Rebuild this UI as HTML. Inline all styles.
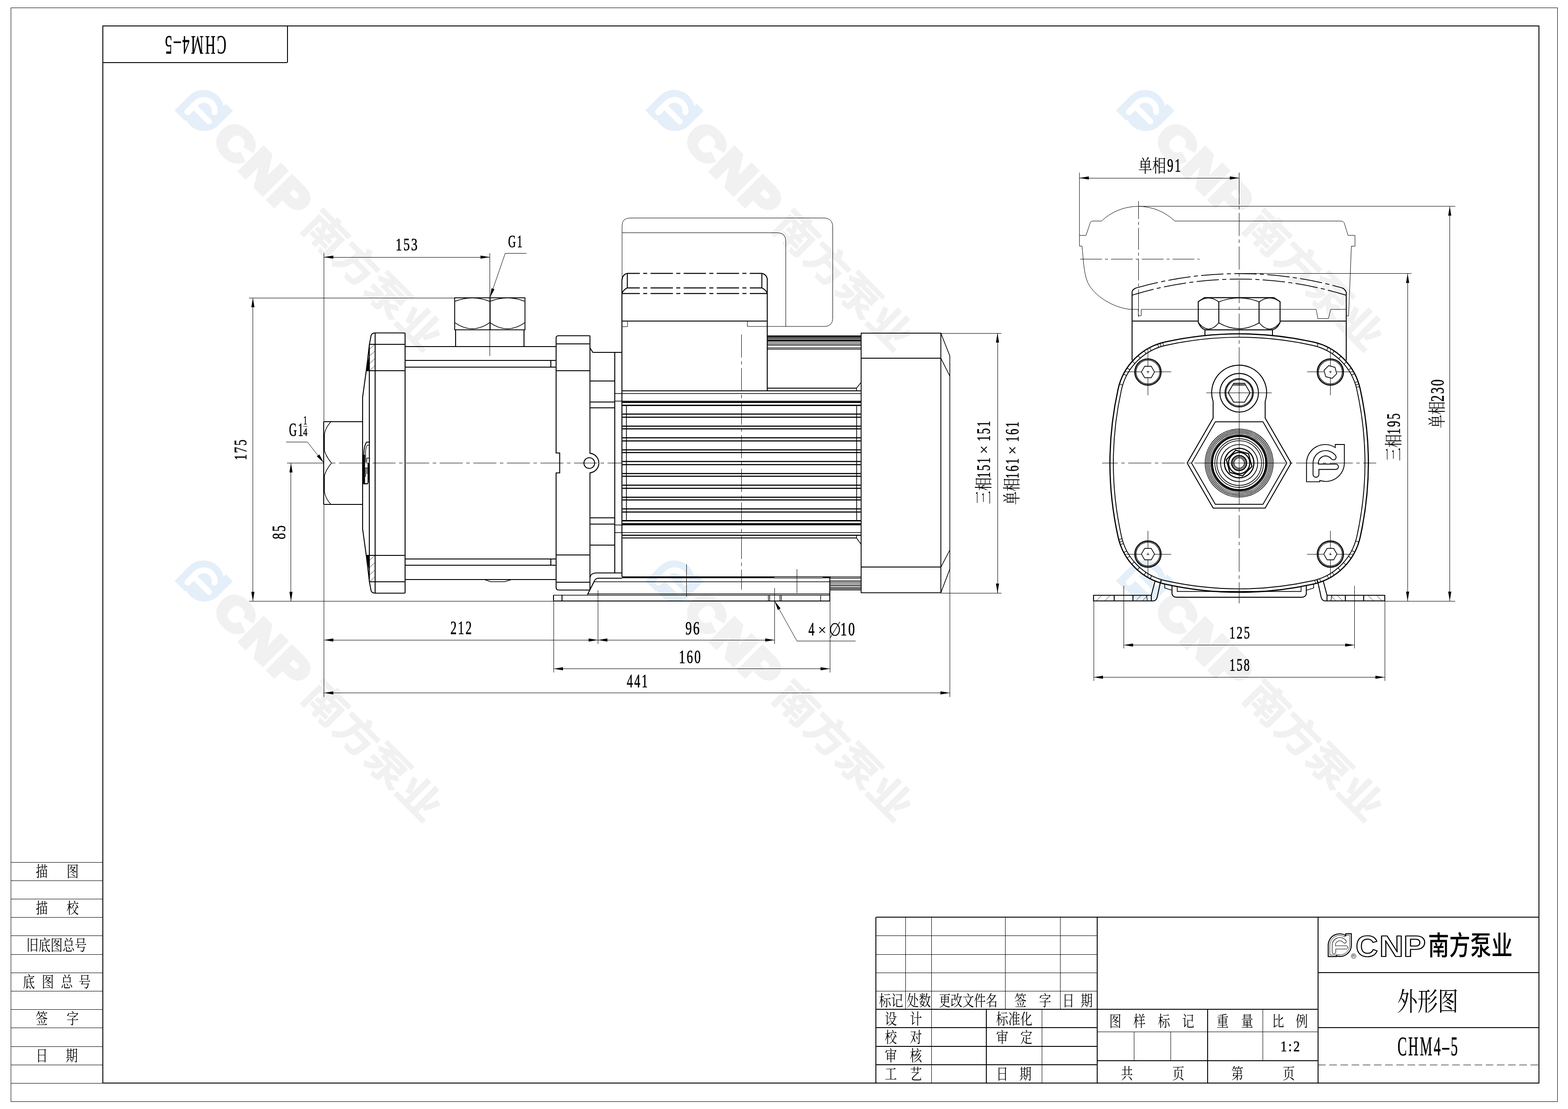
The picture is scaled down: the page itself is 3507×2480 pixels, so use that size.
<!DOCTYPE html>
<html lang="zh"><head><meta charset="utf-8"><title>CHM4-5 外形图</title>
<style>html,body{margin:0;padding:0;background:#fff}body{width:3507px;height:2480px;overflow:hidden;font-family:"Liberation Serif",serif}svg{display:block;will-change:transform}.cj{font-family:"Liberation Serif","Noto Serif CJK SC",serif;fill:#000;stroke:none}</style></head>
<body>
<svg width="3507" height="2480" viewBox="0 0 3507 2480" fill="none" stroke="#000" stroke-linecap="butt">
<defs>
<path id="embO" d="M0,0.99 L0,0.5 A0.49,0.49 0 0 1 0.756,0.089 L0.756,0.01 L0.995,0.01 L0.995,0.5 A0.49,0.49 0 0 1 0.349,0.956 L0.349,0.99 Z"/>
<path id="embI" d="M0.171,0.5 A0.33,0.33 0 0 1 0.764,0.301 A0.07,0.07 0 0 1 0.652,0.386 A0.19,0.19 0 0 0 0.31,0.5 L0.31,0.525 L0.77,0.525 A0.07,0.07 0 0 1 0.77,0.665 L0.325,0.665 L0.325,0.795 A0.077,0.077 0 0 1 0.171,0.795 Z"/>
<path id="embF" fill-rule="evenodd" d="M0,0.99 L0,0.5 A0.49,0.49 0 0 1 0.756,0.089 L0.756,0.01 L0.995,0.01 L0.995,0.5 A0.49,0.49 0 0 1 0.349,0.956 L0.349,0.99 Z M0.171,0.5 A0.33,0.33 0 0 1 0.764,0.301 A0.07,0.07 0 0 1 0.652,0.386 A0.19,0.19 0 0 0 0.31,0.5 L0.31,0.525 L0.77,0.525 A0.07,0.07 0 0 1 0.77,0.665 L0.325,0.665 L0.325,0.795 A0.077,0.077 0 0 1 0.171,0.795 Z"/>
<g id="wm"><g transform="translate(-46.7 -46.7) scale(93.4)"><use href="#embF" fill="#e4eff9" stroke="none"/></g><g font-family="Liberation Sans, sans-serif" font-weight="bold" font-size="106.1" fill="#f1f1f1" stroke="#f1f1f1" stroke-width="10" stroke-linejoin="miter"><text x="60" y="36.4" font-size="100.8" textLength="82.4" lengthAdjust="spacingAndGlyphs">C</text><text x="147.1" y="38.2" textLength="85.1" lengthAdjust="spacingAndGlyphs">N</text><text x="236.7" y="38.2" textLength="76" lengthAdjust="spacingAndGlyphs">P</text></g><text x="337" y="33.7" font-size="90" font-weight="bold" font-family="Liberation Sans, Noto Sans CJK SC, sans-serif" textLength="396" lengthAdjust="spacingAndGlyphs" fill="#f1f1f1" stroke="#f1f1f1" stroke-width="1.4">南方泵业</text></g>
</defs>
<use href="#wm" transform="translate(455.8 247.5) rotate(45)"/>
<use href="#wm" transform="translate(455.8 1299.6) rotate(45)"/>
<use href="#wm" transform="translate(1508.7 247.5) rotate(45)"/>
<use href="#wm" transform="translate(1508.7 1299.6) rotate(45)"/>
<use href="#wm" transform="translate(2561.5 247.5) rotate(45)"/>
<use href="#wm" transform="translate(2561.5 1299.6) rotate(45)"/>
<rect x="24.5" y="17.5" width="3459" height="2446" stroke-width="1"/>
<rect x="230" y="58" width="3212" height="2364" stroke-width="2"/>
<line x1="229.6" y1="140" x2="642.6" y2="140" stroke-width="2"/>
<line x1="643" y1="58" x2="643" y2="139.7" stroke-width="2"/>
<g transform="translate(505 81) rotate(180)"><text x="-1.3" y="0" font-size="58.47" font-family="Liberation Serif, serif" letter-spacing="0.11em" textLength="140.52" lengthAdjust="spacingAndGlyphs" stroke="#000" stroke-width="0.7" fill="#000">CHM4–5</text></g>
<line x1="24.3" y1="1928.5" x2="229.6" y2="1928.5" stroke-width="1"/>
<line x1="24.3" y1="1969.5" x2="229.6" y2="1969.5" stroke-width="1"/>
<line x1="24.3" y1="2010.5" x2="229.6" y2="2010.5" stroke-width="1"/>
<line x1="24.3" y1="2051.5" x2="229.6" y2="2051.5" stroke-width="1"/>
<line x1="24.3" y1="2092.5" x2="229.6" y2="2092.5" stroke-width="1"/>
<line x1="24.3" y1="2134.5" x2="229.6" y2="2134.5" stroke-width="1"/>
<line x1="24.3" y1="2175.5" x2="229.6" y2="2175.5" stroke-width="1"/>
<line x1="24.3" y1="2216.5" x2="229.6" y2="2216.5" stroke-width="1"/>
<line x1="24.3" y1="2257.5" x2="229.6" y2="2257.5" stroke-width="1"/>
<line x1="24.3" y1="2298.5" x2="229.6" y2="2298.5" stroke-width="1"/>
<line x1="24.3" y1="2340.5" x2="229.6" y2="2340.5" stroke-width="1"/>
<line x1="24.3" y1="2381.5" x2="229.6" y2="2381.5" stroke-width="1"/>
<line x1="24.3" y1="2422.5" x2="229.6" y2="2422.5" stroke-width="1"/>
<text class="cj" x="80" y="1961.42" font-size="34" textLength="27" lengthAdjust="spacingAndGlyphs">描</text>
<text class="cj" x="149" y="1961.42" font-size="34" textLength="27" lengthAdjust="spacingAndGlyphs">图</text>
<text class="cj" x="80" y="2043.42" font-size="34" textLength="27" lengthAdjust="spacingAndGlyphs">描</text>
<text class="cj" x="149" y="2043.42" font-size="34" textLength="27" lengthAdjust="spacingAndGlyphs">校</text>
<text class="cj" x="59" y="2125.92" font-size="34" textLength="135" lengthAdjust="spacingAndGlyphs">旧底图总号</text>
<text class="cj" x="51" y="2208.42" font-size="34" textLength="27" lengthAdjust="spacingAndGlyphs">底</text>
<text class="cj" x="93.5" y="2208.42" font-size="34" textLength="27" lengthAdjust="spacingAndGlyphs">图</text>
<text class="cj" x="136" y="2208.42" font-size="34" textLength="27" lengthAdjust="spacingAndGlyphs">总</text>
<text class="cj" x="176" y="2208.42" font-size="34" textLength="27" lengthAdjust="spacingAndGlyphs">号</text>
<text class="cj" x="80" y="2290.42" font-size="34" textLength="27" lengthAdjust="spacingAndGlyphs">签</text>
<text class="cj" x="149" y="2290.42" font-size="34" textLength="27" lengthAdjust="spacingAndGlyphs">字</text>
<text class="cj" x="80" y="2372.92" font-size="34" textLength="27" lengthAdjust="spacingAndGlyphs">日</text>
<text class="cj" x="147" y="2372.92" font-size="34" textLength="27" lengthAdjust="spacingAndGlyphs">期</text>
<line x1="724.5" y1="943" x2="811.3" y2="943" stroke-width="2.1"/>
<line x1="724.5" y1="1128" x2="811.3" y2="1128" stroke-width="2.1"/>
<line x1="724" y1="942.6" x2="724" y2="1128.2" stroke-width="2.1"/>
<path d="M740.4,942.7 Q728,956 725.6,971 L725.6,1007.8 Q730,1022 741.5,1035.5 Q730,1049 725.6,1063.2 L725.6,1100 Q728,1115 740.4,1128.2" stroke-width="1.5"/>
<path d="M905.5,744.5 L839,744.5 Q831.5,745 830,750 L826.3,770 L819.5,826.3 L811.3,886.3" stroke-width="2.1"/>
<line x1="826.3" y1="770" x2="905.5" y2="770" stroke-width="2.1"/>
<line x1="819.7" y1="829" x2="905.5" y2="829" stroke-width="2.1"/>
<polygon points="826.3,792 826.3,829 819.6,828.5 820.5,818" fill="#000" stroke="none"/>
<line x1="826.5" y1="781" x2="838.5" y2="770" stroke-width="0.8"/>
<line x1="826.5" y1="796" x2="838.5" y2="785" stroke-width="0.8"/>
<line x1="826.5" y1="813" x2="838.5" y2="802" stroke-width="0.8"/>
<line x1="826.5" y1="829" x2="838.5" y2="818" stroke-width="0.8"/>
<path d="M905.5,1326.5 L839,1326.5 Q831.5,1326 830,1321 L826.3,1301 L819.5,1244.7 L811.3,1184.7" stroke-width="2.1"/>
<line x1="826.3" y1="1301" x2="905.5" y2="1301" stroke-width="2.1"/>
<line x1="819.7" y1="1242" x2="905.5" y2="1242" stroke-width="2.1"/>
<polygon points="826.3,1279 826.3,1242 819.6,1242.5 820.5,1253" fill="#000" stroke="none"/>
<line x1="826.5" y1="1301" x2="838.5" y2="1290" stroke-width="0.8"/>
<line x1="826.5" y1="1286" x2="838.5" y2="1275" stroke-width="0.8"/>
<line x1="826.5" y1="1269" x2="838.5" y2="1258" stroke-width="0.8"/>
<line x1="826.5" y1="1253" x2="838.5" y2="1242" stroke-width="0.8"/>
<line x1="811" y1="886" x2="811" y2="1185" stroke-width="2.1"/>
<line x1="826" y1="770" x2="826" y2="1301" stroke-width="2.1"/>
<line x1="839" y1="744.5" x2="839" y2="1326.5" stroke-width="2.1"/>
<line x1="906" y1="744.5" x2="906" y2="1326.5" stroke-width="2.1"/>
<polygon points="811.8,1017 816.4,1017 816.4,1083 811.8,1083" fill="#000" stroke="none"/>
<polygon points="822.2,1035.6 826.6,1035.6 826.6,1072 824.8,1072 824.3,1080 822.2,1083 816,1083 816,1080.6 822.2,1080.6" fill="#000" stroke="none"/>
<path d="M813.6,1018 Q814.2,996 819.8,988.8 L827.6,988.8" stroke-width="2"/>
<path d="M817.6,1034 L817.6,1010 Q818.5,998 822,995.5 L826,995.5" stroke-width="1.5"/>
<path d="M820.4,1034 L820.4,1024.5 L827.6,1024.5" stroke-width="1.5"/>
<line x1="817.5" y1="1047" x2="817.5" y2="1066" stroke-width="1.4"/>
<line x1="820.5" y1="1047" x2="820.5" y2="1060" stroke-width="1.4"/>
<line x1="816.4" y1="1046.5" x2="822.2" y2="1046.5" stroke-width="1.4"/>
<line x1="905.5" y1="775" x2="1243.8" y2="775" stroke-width="2.1"/>
<line x1="905.5" y1="806" x2="1243.8" y2="806" stroke-width="2.1"/>
<line x1="905.5" y1="821" x2="1243.8" y2="821" stroke-width="2.1"/>
<line x1="905.5" y1="1250" x2="1243.8" y2="1250" stroke-width="2.1"/>
<line x1="905.5" y1="1264" x2="1243.8" y2="1264" stroke-width="2.1"/>
<line x1="905.5" y1="1296" x2="1243.8" y2="1296" stroke-width="2.1"/>
<line x1="1232" y1="805.6" x2="1232" y2="820.6" stroke-width="2.1"/>
<line x1="1232" y1="1249.8" x2="1232" y2="1263.8" stroke-width="2.1"/>
<path d="M1082.5,1295.8 L1097.5,1300.8 L1128.8,1300.8 L1145,1295.8" stroke-width="1.6"/>
<rect x="1017" y="666" width="157.2" height="71.5" stroke-width="1.9"/>
<line x1="1096" y1="666" x2="1096" y2="737.5" stroke-width="2.4"/>
<path d="M1017,674 Q1056.3,658.5 1095.6,674" stroke-width="1.6"/>
<path d="M1017,721.4 Q1056.3,749 1095.6,721.4" stroke-width="1.6"/>
<path d="M1095.6,674 Q1134.9,658.5 1174.2,674" stroke-width="1.6"/>
<path d="M1095.6,721.4 Q1134.9,749 1174.2,721.4" stroke-width="1.6"/>
<line x1="1019" y1="737.5" x2="1019" y2="775" stroke-width="2.1"/>
<line x1="1172" y1="737.5" x2="1172" y2="775" stroke-width="2.1"/>
<path d="M1319.5,750.8 L1249,750.8 Q1243.8,751 1243.8,756 L1243.8,1013 L1251.8,1013 L1251.8,1057.5 L1243.8,1057.5 L1243.8,1314 Q1244,1319.5 1250,1319.5 L1319.5,1319.5" stroke-width="2.1"/>
<path d="M1319.5,750.8 L1319.5,1013.6 A22,22 0 0 1 1319.5,1057.4 L1319.5,1319.5" stroke-width="2.1"/>
<line x1="1243.8" y1="769" x2="1319.5" y2="769" stroke-width="2.1"/>
<line x1="1243.8" y1="829" x2="1319.5" y2="829" stroke-width="2.1"/>
<line x1="1243.8" y1="1241" x2="1319.5" y2="1241" stroke-width="2.1"/>
<line x1="1243.8" y1="1302" x2="1319.5" y2="1302" stroke-width="2.1"/>
<circle cx="1318" cy="1035.5" r="12" stroke-width="2.1"/>
<path d="M1319.5,778 L1326,788 L1391.3,788" stroke-width="2.1"/>
<line x1="1375" y1="788" x2="1375" y2="1281.3" stroke-width="2.1"/>
<line x1="1319.5" y1="852" x2="1374.7" y2="852" stroke-width="2.1"/>
<line x1="1319.5" y1="899" x2="1374.7" y2="899" stroke-width="2.1"/>
<line x1="1319.5" y1="912" x2="1374.7" y2="912" stroke-width="2.1"/>
<line x1="1319.5" y1="1158" x2="1374.7" y2="1158" stroke-width="2.1"/>
<line x1="1319.5" y1="1172" x2="1374.7" y2="1172" stroke-width="2.1"/>
<line x1="1319.5" y1="1219" x2="1374.7" y2="1219" stroke-width="2.1"/>
<path d="M1319.5,1291 Q1321,1282 1333,1281.3 L1391.3,1281.3" stroke-width="2.1"/>
<line x1="1391" y1="625" x2="1391" y2="1290" stroke-width="2.1"/>
<line x1="1391.3" y1="718" x2="1716.3" y2="718" stroke-width="2.2"/>
<line x1="1716" y1="625" x2="1716" y2="873.5" stroke-width="2.1"/>
<line x1="1391.3" y1="874" x2="1926" y2="874" stroke-width="2.2"/>
<line x1="1374.7" y1="880" x2="1926" y2="880" stroke-width="1.7"/>
<line x1="1374.7" y1="897" x2="1926" y2="897" stroke-width="1.7"/>
<line x1="1374.7" y1="1174" x2="1926" y2="1174" stroke-width="1.7"/>
<line x1="1374.7" y1="1191" x2="1926" y2="1191" stroke-width="1.7"/>
<line x1="1391.3" y1="1197" x2="1926" y2="1197" stroke-width="2.4"/>
<line x1="1391.3" y1="1203" x2="1915.6" y2="1203" stroke-width="1.8"/>
<line x1="1716.3" y1="868" x2="1915.6" y2="868" stroke-width="1.8"/>
<path d="M1915.6,873 L1915.6,868 L1926,855" stroke-width="1.6"/>
<path d="M1915.6,1198 L1915.6,1203 L1926,1217.5" stroke-width="1.6"/>
<line x1="1390.5" y1="899.5" x2="1926" y2="899.5" stroke-width="2.8"/>
<line x1="1390.5" y1="906.5" x2="1926" y2="906.5" stroke-width="2.8"/>
<line x1="1390.5" y1="926" x2="1926" y2="926" stroke-width="2.4"/>
<line x1="1390.5" y1="933" x2="1926" y2="933" stroke-width="2.4"/>
<line x1="1391" y1="926.1" x2="1391" y2="932.9" stroke-width="1.6"/>
<line x1="1390.5" y1="953" x2="1926" y2="953" stroke-width="2.4"/>
<line x1="1390.5" y1="959" x2="1926" y2="959" stroke-width="2.4"/>
<line x1="1391" y1="952.6" x2="1391" y2="959.4" stroke-width="1.6"/>
<line x1="1390.5" y1="979" x2="1926" y2="979" stroke-width="2.4"/>
<line x1="1390.5" y1="986" x2="1926" y2="986" stroke-width="2.4"/>
<line x1="1391" y1="979.1" x2="1391" y2="985.9" stroke-width="1.6"/>
<line x1="1390.5" y1="1006" x2="1926" y2="1006" stroke-width="2.4"/>
<line x1="1390.5" y1="1012" x2="1926" y2="1012" stroke-width="2.4"/>
<line x1="1391" y1="1005.6" x2="1391" y2="1012.4" stroke-width="1.6"/>
<line x1="1390.5" y1="1032" x2="1926" y2="1032" stroke-width="2.4"/>
<line x1="1390.5" y1="1039" x2="1926" y2="1039" stroke-width="2.4"/>
<line x1="1391" y1="1032.1" x2="1391" y2="1038.9" stroke-width="1.6"/>
<line x1="1390.5" y1="1059" x2="1926" y2="1059" stroke-width="2.4"/>
<line x1="1390.5" y1="1065" x2="1926" y2="1065" stroke-width="2.4"/>
<line x1="1391" y1="1058.6" x2="1391" y2="1065.4" stroke-width="1.6"/>
<line x1="1390.5" y1="1085" x2="1926" y2="1085" stroke-width="2.4"/>
<line x1="1390.5" y1="1092" x2="1926" y2="1092" stroke-width="2.4"/>
<line x1="1391" y1="1085.1" x2="1391" y2="1091.9" stroke-width="1.6"/>
<line x1="1390.5" y1="1112" x2="1926" y2="1112" stroke-width="2.4"/>
<line x1="1390.5" y1="1118" x2="1926" y2="1118" stroke-width="2.4"/>
<line x1="1391" y1="1111.6" x2="1391" y2="1118.4" stroke-width="1.6"/>
<line x1="1390.5" y1="1138" x2="1926" y2="1138" stroke-width="2.4"/>
<line x1="1390.5" y1="1145" x2="1926" y2="1145" stroke-width="2.4"/>
<line x1="1391" y1="1138.1" x2="1391" y2="1144.9" stroke-width="1.6"/>
<line x1="1390.5" y1="1164.5" x2="1926" y2="1164.5" stroke-width="2.8"/>
<line x1="1390.5" y1="1171.5" x2="1926" y2="1171.5" stroke-width="2.8"/>
<line x1="1401" y1="907" x2="1401" y2="1164" stroke-width="1.6"/>
<line x1="1916" y1="907" x2="1916" y2="1164" stroke-width="1.6"/>
<line x1="1716.3" y1="752" x2="1926" y2="752" stroke-width="3.6"/>
<line x1="1856.3" y1="1319" x2="1926" y2="1319" stroke-width="2"/>
<line x1="1716.3" y1="756" x2="1926" y2="756" stroke-width="2.4"/>
<line x1="1856.3" y1="1315" x2="1926" y2="1315" stroke-width="2.4"/>
<line x1="1716.3" y1="761" x2="1926" y2="761" stroke-width="4"/>
<line x1="1856.3" y1="1310" x2="1926" y2="1310" stroke-width="2"/>
<line x1="1716.3" y1="765" x2="1926" y2="765" stroke-width="1.5"/>
<line x1="1856.3" y1="1306" x2="1926" y2="1306" stroke-width="1.5"/>
<line x1="1716.3" y1="769" x2="1926" y2="769" stroke-width="1.5"/>
<line x1="1856.3" y1="1302" x2="1926" y2="1302" stroke-width="1.5"/>
<line x1="1716.3" y1="772" x2="1926" y2="772" stroke-width="1.5"/>
<line x1="1856.3" y1="1299" x2="1926" y2="1299" stroke-width="1.5"/>
<line x1="1716.3" y1="778" x2="1926" y2="778" stroke-width="1.5"/>
<line x1="1856.3" y1="1293" x2="1926" y2="1293" stroke-width="1.5"/>
<line x1="1716.3" y1="781" x2="1926" y2="781" stroke-width="1.5"/>
<line x1="1856.3" y1="1290" x2="1926" y2="1290" stroke-width="1.5"/>
<path d="M1403,611.3 L1703.8,611.3" stroke-width="2.2" stroke-dasharray="50 7.5 9 7.5" stroke-dashoffset="22"/>
<path d="M1403,643.8 L1703.8,643.8" stroke-width="2.2" stroke-dasharray="50 7.5 9 7.5" stroke-dashoffset="22"/>
<path d="M1391.3,656.3 L1716.3,656.3" stroke-width="2.2" stroke-dasharray="50 7.5 9 7.5" stroke-dashoffset="10.3"/>
<path d="M1403,611.3 Q1392,614 1391.3,626" stroke-width="2.1"/>
<path d="M1703.8,611.3 Q1715.5,614 1716.3,626" stroke-width="2.1"/>
<line x1="1403" y1="611.3" x2="1403" y2="643.8" stroke-width="2.1"/>
<line x1="1704" y1="611.3" x2="1704" y2="643.8" stroke-width="2.1"/>
<path d="M1403,643.8 Q1394,648 1391.3,656.3" stroke-width="2.1"/>
<path d="M1703.8,643.8 Q1713,648 1716.3,656.3" stroke-width="2.1"/>
<path d="M1391.3,730.5 L1403.6,730.5 L1403.6,718" stroke-width="1"/>
<path d="M1391.3,626 L1391.3,505 Q1391.3,487.5 1409,487.5 L1842,487.5 Q1862.5,487.5 1862.5,508 L1862.5,711 Q1862.5,730 1844,730 L1671.5,730 L1671.5,718" stroke-width="1"/>
<path d="M1391.3,520.5 L1739,520.5 Q1757.5,520.5 1757.5,540 L1757.5,730" stroke-width="1"/>
<line x1="1658.5" y1="748" x2="1658.5" y2="1318.8" stroke-width="1" stroke-dasharray="51.7 7.8 7.8 7.8"/>
<line x1="642" y1="1035.5" x2="724.5" y2="1035.5" stroke-width="1"/>
<line x1="741.5" y1="1035.5" x2="1390" y2="1035.5" stroke-width="1" stroke-dasharray="51.7 7.8 7.8 7.8" stroke-dashoffset="58.5"/>
<rect x="1926" y="745" width="178.3" height="580.5" stroke-width="1.9"/>
<line x1="1926" y1="801" x2="2104.3" y2="801" stroke-width="2.1"/>
<line x1="1926" y1="1268" x2="2104.3" y2="1268" stroke-width="2.1"/>
<path d="M2104.3,745 L2124.4,796 L2124.4,1272.5 L2104.3,1325.5" stroke-width="1.6"/>
<line x1="2104.3" y1="801.2" x2="2124.4" y2="841" stroke-width="1.6"/>
<line x1="2104.3" y1="1268.3" x2="2124.4" y2="1230" stroke-width="1.6"/>
<line x1="1391.3" y1="1291" x2="1732" y2="1291" stroke-width="4"/>
<line x1="1732" y1="1289.5" x2="1840" y2="1289.5" stroke-width="1.4"/>
<line x1="1840" y1="1291" x2="1857.5" y2="1291" stroke-width="4"/>
<line x1="1732" y1="1292.5" x2="1840" y2="1292.5" stroke-width="1.4"/>
<path d="M1313.8,1330 L1329,1300 Q1332,1293 1338,1293 L1391.3,1293" stroke-width="2.1"/>
<line x1="1329" y1="1301" x2="1856.3" y2="1301" stroke-width="1.6"/>
<line x1="1238.2" y1="1331" x2="1857" y2="1331" stroke-width="1.7"/>
<line x1="1314" y1="1328" x2="1857" y2="1328" stroke-width="1.6"/>
<line x1="1238.2" y1="1344" x2="1857" y2="1344" stroke-width="2.2"/>
<line x1="1238" y1="1330.6" x2="1238" y2="1343.6" stroke-width="2.1"/>
<line x1="1257" y1="1330.6" x2="1257" y2="1343.6" stroke-width="2.1"/>
<line x1="1856" y1="1290" x2="1856" y2="1344" stroke-width="2.1"/>
<line x1="1718.5" y1="1331.4" x2="1718.5" y2="1343.6" stroke-width="1.4"/>
<line x1="1721.5" y1="1331.4" x2="1721.5" y2="1343.6" stroke-width="1.4"/>
<line x1="1744.5" y1="1331.4" x2="1744.5" y2="1343.6" stroke-width="1.4"/>
<line x1="1747.5" y1="1331.4" x2="1747.5" y2="1343.6" stroke-width="1.4"/>
<line x1="1835.5" y1="1331.4" x2="1835.5" y2="1343.6" stroke-width="1.4"/>
<line x1="1535.5" y1="1262" x2="1535.5" y2="1334.5" stroke-width="1"/>
<line x1="1782.5" y1="1273" x2="1782.5" y2="1326.3" stroke-width="1"/>
<line x1="1732.5" y1="1315" x2="1732.5" y2="1440" stroke-width="1"/>
<line x1="1337.5" y1="1320" x2="1337.5" y2="1440" stroke-width="1"/>
<line x1="724.5" y1="566" x2="724.5" y2="942.6" stroke-width="1"/>
<line x1="724.5" y1="1128.2" x2="724.5" y2="1558.8" stroke-width="1"/>
<line x1="1095.5" y1="566" x2="1095.5" y2="666" stroke-width="1"/>
<line x1="1095.5" y1="737.5" x2="1095.5" y2="796" stroke-width="1"/>
<line x1="724.5" y1="575.5" x2="1095.6" y2="575.5" stroke-width="1"/>
<polygon points="724.5,575 745.5,571.5 745.5,578.5" fill="#000" stroke="none"/>
<polygon points="1095.6,575 1074.6,578.5 1074.6,571.5" fill="#000" stroke="none"/>
<text x="884.8" y="560" font-size="39.69" font-family="Liberation Serif, serif" letter-spacing="0.11em" textLength="52.04" lengthAdjust="spacingAndGlyphs" stroke="#000" stroke-width="0.7" fill="#000">153</text>
<text x="1136.52" y="552.6" font-size="40.46" font-family="Liberation Serif, serif" letter-spacing="0.11em" textLength="34.56" lengthAdjust="spacingAndGlyphs" stroke="#000" stroke-width="0.7" fill="#000">G1</text>
<path d="M1177.5,566.5 L1130,566.5 L1095.8,665.5" stroke-width="1"/>
<polygon points="1095.8,665.5 1099.33,644.5 1105.95,646.78" fill="#000" stroke="none"/>
<line x1="557" y1="666.5" x2="1017" y2="666.5" stroke-width="1"/>
<line x1="557" y1="1344.5" x2="1238" y2="1344.5" stroke-width="1"/>
<line x1="565.5" y1="666" x2="565.5" y2="1344.4" stroke-width="1"/>
<polygon points="565.6,666 569.1,687 562.1,687" fill="#000" stroke="none"/>
<polygon points="565.6,1344.4 562.1,1323.4 569.1,1323.4" fill="#000" stroke="none"/>
<g transform="translate(551 1027) rotate(-90)"><text x="-2.37" y="0" font-size="39.69" font-family="Liberation Serif, serif" letter-spacing="0.11em" textLength="49.4" lengthAdjust="spacingAndGlyphs" stroke="#000" stroke-width="0.7" fill="#000">175</text></g>
<line x1="650.5" y1="1035.5" x2="650.5" y2="1344.4" stroke-width="1"/>
<polygon points="650.8,1035.5 654.3,1056.5 647.3,1056.5" fill="#000" stroke="none"/>
<polygon points="650.8,1344.4 647.3,1323.4 654.3,1323.4" fill="#000" stroke="none"/>
<g transform="translate(638 1205) rotate(-90)"><text x="-1.07" y="0" font-size="42.75" font-family="Liberation Serif, serif" letter-spacing="0.11em" textLength="34.25" lengthAdjust="spacingAndGlyphs" stroke="#000" stroke-width="0.7" fill="#000">85</text></g>
<text x="646.52" y="975" font-size="41.22" font-family="Liberation Serif, serif" letter-spacing="0.11em" textLength="34.56" lengthAdjust="spacingAndGlyphs" stroke="#000" stroke-width="0.7" fill="#000">G1</text>
<text x="678.5" y="948.8" font-size="27.48" font-family="Liberation Serif, serif" letter-spacing="0.11em" textLength="10.4" lengthAdjust="spacingAndGlyphs" stroke="#000" stroke-width="0.7" fill="#000">1</text>
<line x1="678.5" y1="953.5" x2="687.5" y2="953.5" stroke-width="1"/>
<text x="678.24" y="975" font-size="25.95" font-family="Liberation Serif, serif" letter-spacing="0.11em" textLength="11.15" lengthAdjust="spacingAndGlyphs" stroke="#000" stroke-width="0.7" fill="#000">4</text>
<path d="M640,988.5 L687.5,988.5 L724.3,1035" stroke-width="1"/>
<polygon points="724.3,1035 708.61,1020.61 714.13,1016.3" fill="#000" stroke="none"/>
<line x1="724.5" y1="1431.5" x2="1732.5" y2="1431.5" stroke-width="1"/>
<polygon points="724.5,1431.3 745.5,1427.8 745.5,1434.8" fill="#000" stroke="none"/>
<polygon points="1337.5,1431.3 1316.5,1434.8 1316.5,1427.8" fill="#000" stroke="none"/>
<polygon points="1337.5,1431.3 1358.5,1427.8 1358.5,1434.8" fill="#000" stroke="none"/>
<polygon points="1732.5,1431.3 1711.5,1434.8 1711.5,1427.8" fill="#000" stroke="none"/>
<text x="1007.59" y="1418.2" font-size="42.75" font-family="Liberation Serif, serif" letter-spacing="0.11em" textLength="50.35" lengthAdjust="spacingAndGlyphs" stroke="#000" stroke-width="0.7" fill="#000">212</text>
<text x="1532.88" y="1418.8" font-size="41.98" font-family="Liberation Serif, serif" letter-spacing="0.11em" textLength="34.92" lengthAdjust="spacingAndGlyphs" stroke="#000" stroke-width="0.7" fill="#000">96</text>
<line x1="1238.5" y1="1343.6" x2="1238.5" y2="1503.8" stroke-width="1"/>
<line x1="1856.5" y1="1344" x2="1856.5" y2="1503.8" stroke-width="1"/>
<line x1="1238.2" y1="1495.5" x2="1856.3" y2="1495.5" stroke-width="1"/>
<polygon points="1238.2,1495.5 1259.2,1492 1259.2,1499" fill="#000" stroke="none"/>
<polygon points="1856.3,1495.5 1835.3,1499 1835.3,1492" fill="#000" stroke="none"/>
<text x="1518.52" y="1482.5" font-size="41.98" font-family="Liberation Serif, serif" letter-spacing="0.11em" textLength="51.66" lengthAdjust="spacingAndGlyphs" stroke="#000" stroke-width="0.7" fill="#000">160</text>
<line x1="2124.5" y1="1272.5" x2="2124.5" y2="1558.8" stroke-width="1"/>
<line x1="724.5" y1="1549.5" x2="2124.4" y2="1549.5" stroke-width="1"/>
<polygon points="724.5,1549.5 745.5,1546 745.5,1553" fill="#000" stroke="none"/>
<polygon points="2124.4,1549.5 2103.4,1553 2103.4,1546" fill="#000" stroke="none"/>
<text x="1401.97" y="1537" font-size="41.22" font-family="Liberation Serif, serif" letter-spacing="0.11em" textLength="49.42" lengthAdjust="spacingAndGlyphs" stroke="#000" stroke-width="0.7" fill="#000">441</text>
<path d="M1732.5,1344 L1782.5,1433.5 L1913.8,1433.5" stroke-width="1"/>
<polygon points="1732.5,1344 1745.83,1360.6 1739.72,1364.03" fill="#000" stroke="none"/>
<text x="1808.27" y="1421.3" font-size="41.22" font-family="Liberation Serif, serif" letter-spacing="0.11em" textLength="16.4" lengthAdjust="spacingAndGlyphs" stroke="#000" stroke-width="0.7" fill="#000">4</text>
<line x1="1832.5" y1="1402.5" x2="1845.1" y2="1415.1" stroke-width="1.9"/>
<line x1="1832.5" y1="1415.1" x2="1845.1" y2="1402.5" stroke-width="1.9"/>
<text x="1879.43" y="1421.3" font-size="41.22" font-family="Liberation Serif, serif" letter-spacing="0.11em" textLength="35.71" lengthAdjust="spacingAndGlyphs" stroke="#000" stroke-width="0.7" fill="#000">10</text>
<ellipse cx="1867.5" cy="1407.7" rx="10" ry="13.3" stroke-width="2.2"/>
<line x1="1857" y1="1426" x2="1878.5" y2="1390.5" stroke-width="1.4"/>
<line x1="2104.3" y1="745.5" x2="2240" y2="745.5" stroke-width="1"/>
<line x1="2104.3" y1="1326.5" x2="2240" y2="1326.5" stroke-width="1"/>
<line x1="2231.5" y1="745" x2="2231.5" y2="1326" stroke-width="1"/>
<polygon points="2231,745 2234.5,766 2227.5,766" fill="#000" stroke="none"/>
<polygon points="2231,1326 2227.5,1305 2234.5,1305" fill="#000" stroke="none"/>
<path d="M2605.97,764.78 A767,767 0 0 1 2937.03,764.78 A138.3,138.3 0 0 1 3042.22,869.97 A767,767 0 0 1 3042.22,1201.03 A138.3,138.3 0 0 1 2937.03,1306.22 A767,767 0 0 1 2605.97,1306.22 A138.3,138.3 0 0 1 2500.78,1201.03 A767,767 0 0 1 2500.78,869.97 A138.3,138.3 0 0 1 2605.97,764.78 Z" stroke-width="2.6"/>
<path d="M2607.61,772.2 A759.4,759.4 0 0 1 2935.39,772.2 A130.70000000000002,130.70000000000002 0 0 1 3034.8,871.61 A759.4,759.4 0 0 1 3034.8,1199.39 A130.70000000000002,130.70000000000002 0 0 1 2935.39,1298.8 A759.4,759.4 0 0 1 2607.61,1298.8 A130.70000000000002,130.70000000000002 0 0 1 2508.2,1199.39 A759.4,759.4 0 0 1 2508.2,871.61 A130.70000000000002,130.70000000000002 0 0 1 2607.61,772.2 Z" stroke-width="1.9"/>
<line x1="2503.7" y1="858.92" x2="2510.96" y2="861.17" stroke-width="1.3"/>
<line x1="2512.92" y1="836.38" x2="2519.67" y2="839.87" stroke-width="1.3"/>
<line x1="2520.89" y1="822.88" x2="2527.21" y2="827.11" stroke-width="1.3"/>
<line x1="2532.56" y1="807.81" x2="2538.23" y2="812.87" stroke-width="1.3"/>
<line x1="2545.27" y1="795.28" x2="2550.24" y2="801.03" stroke-width="1.3"/>
<line x1="2559.08" y1="784.76" x2="2563.3" y2="791.08" stroke-width="1.3"/>
<line x1="2571.31" y1="777.48" x2="2574.86" y2="784.2" stroke-width="1.3"/>
<line x1="2588.97" y1="769.69" x2="2591.54" y2="776.84" stroke-width="1.3"/>
<line x1="2594.69" y1="767.77" x2="2596.95" y2="775.03" stroke-width="1.3"/>
<line x1="2600.49" y1="766.1" x2="2602.43" y2="773.45" stroke-width="1.3"/>
<line x1="2948.08" y1="767.7" x2="2945.83" y2="774.96" stroke-width="1.3"/>
<line x1="2970.62" y1="776.92" x2="2967.13" y2="783.67" stroke-width="1.3"/>
<line x1="2984.12" y1="784.89" x2="2979.89" y2="791.21" stroke-width="1.3"/>
<line x1="2999.19" y1="796.56" x2="2994.13" y2="802.23" stroke-width="1.3"/>
<line x1="3011.72" y1="809.27" x2="3005.97" y2="814.24" stroke-width="1.3"/>
<line x1="3022.24" y1="823.08" x2="3015.92" y2="827.3" stroke-width="1.3"/>
<line x1="3029.52" y1="835.31" x2="3022.8" y2="838.86" stroke-width="1.3"/>
<line x1="3037.31" y1="852.97" x2="3030.16" y2="855.54" stroke-width="1.3"/>
<line x1="3039.23" y1="858.69" x2="3031.97" y2="860.95" stroke-width="1.3"/>
<line x1="3040.9" y1="864.49" x2="3033.55" y2="866.43" stroke-width="1.3"/>
<line x1="3039.3" y1="1212.08" x2="3032.04" y2="1209.83" stroke-width="1.3"/>
<line x1="3030.08" y1="1234.62" x2="3023.33" y2="1231.13" stroke-width="1.3"/>
<line x1="3022.11" y1="1248.12" x2="3015.79" y2="1243.89" stroke-width="1.3"/>
<line x1="3010.44" y1="1263.19" x2="3004.77" y2="1258.13" stroke-width="1.3"/>
<line x1="2997.73" y1="1275.72" x2="2992.76" y2="1269.97" stroke-width="1.3"/>
<line x1="2983.92" y1="1286.24" x2="2979.7" y2="1279.92" stroke-width="1.3"/>
<line x1="2971.69" y1="1293.52" x2="2968.14" y2="1286.8" stroke-width="1.3"/>
<line x1="2954.03" y1="1301.31" x2="2951.46" y2="1294.16" stroke-width="1.3"/>
<line x1="2948.31" y1="1303.23" x2="2946.05" y2="1295.97" stroke-width="1.3"/>
<line x1="2942.51" y1="1304.9" x2="2940.57" y2="1297.55" stroke-width="1.3"/>
<line x1="2594.92" y1="1303.3" x2="2597.17" y2="1296.04" stroke-width="1.3"/>
<line x1="2572.38" y1="1294.08" x2="2575.87" y2="1287.33" stroke-width="1.3"/>
<line x1="2558.88" y1="1286.11" x2="2563.11" y2="1279.79" stroke-width="1.3"/>
<line x1="2543.81" y1="1274.44" x2="2548.87" y2="1268.77" stroke-width="1.3"/>
<line x1="2531.28" y1="1261.73" x2="2537.03" y2="1256.76" stroke-width="1.3"/>
<line x1="2520.76" y1="1247.92" x2="2527.08" y2="1243.7" stroke-width="1.3"/>
<line x1="2513.48" y1="1235.69" x2="2520.2" y2="1232.14" stroke-width="1.3"/>
<line x1="2505.69" y1="1218.03" x2="2512.84" y2="1215.46" stroke-width="1.3"/>
<line x1="2503.77" y1="1212.31" x2="2511.03" y2="1210.05" stroke-width="1.3"/>
<line x1="2502.1" y1="1206.51" x2="2509.45" y2="1204.57" stroke-width="1.3"/>
<circle cx="2567.5" cy="831.9" r="29.2" stroke-width="2.6"/>
<circle cx="2567.5" cy="831.9" r="26.5" stroke-width="1.4"/>
<path d="M2582.2,831.9 L2574.85,844.63 L2560.15,844.63 L2552.8,831.9 L2560.15,819.17 L2574.85,819.17 Z" stroke-width="1.6"/>
<line x1="2564.5" y1="831.5" x2="2570.5" y2="831.5" stroke-width="1"/>
<line x1="2567.5" y1="828.9" x2="2567.5" y2="834.9" stroke-width="1"/>
<line x1="2515.5" y1="831.5" x2="2553.5" y2="831.5" stroke-width="1"/>
<line x1="2581.5" y1="831.5" x2="2619.5" y2="831.5" stroke-width="1"/>
<line x1="2567.5" y1="779.9" x2="2567.5" y2="819.4" stroke-width="1"/>
<line x1="2567.5" y1="844.4" x2="2567.5" y2="883.9" stroke-width="1"/>
<circle cx="2975.5" cy="831.9" r="29.2" stroke-width="2.6"/>
<circle cx="2975.5" cy="831.9" r="26.5" stroke-width="1.4"/>
<path d="M2989.7,835.7 L2979.3,846.1 L2965.11,842.29 L2961.3,828.1 L2971.7,817.7 L2985.89,821.51 Z" stroke-width="1.6"/>
<line x1="2972.5" y1="831.5" x2="2978.5" y2="831.5" stroke-width="1"/>
<line x1="2975.5" y1="828.9" x2="2975.5" y2="834.9" stroke-width="1"/>
<line x1="2923.5" y1="831.5" x2="2961.5" y2="831.5" stroke-width="1"/>
<line x1="2989.5" y1="831.5" x2="3027.5" y2="831.5" stroke-width="1"/>
<line x1="2975.5" y1="779.9" x2="2975.5" y2="819.4" stroke-width="1"/>
<line x1="2975.5" y1="844.4" x2="2975.5" y2="883.9" stroke-width="1"/>
<circle cx="2567.5" cy="1239.1" r="29.2" stroke-width="2.6"/>
<circle cx="2567.5" cy="1239.1" r="26.5" stroke-width="1.4"/>
<path d="M2582.2,1239.1 L2574.85,1251.83 L2560.15,1251.83 L2552.8,1239.1 L2560.15,1226.37 L2574.85,1226.37 Z" stroke-width="1.6"/>
<line x1="2564.5" y1="1239.5" x2="2570.5" y2="1239.5" stroke-width="1"/>
<line x1="2567.5" y1="1236.1" x2="2567.5" y2="1242.1" stroke-width="1"/>
<line x1="2515.5" y1="1239.5" x2="2553.5" y2="1239.5" stroke-width="1"/>
<line x1="2581.5" y1="1239.5" x2="2619.5" y2="1239.5" stroke-width="1"/>
<line x1="2567.5" y1="1187.1" x2="2567.5" y2="1226.6" stroke-width="1"/>
<line x1="2567.5" y1="1251.6" x2="2567.5" y2="1291.1" stroke-width="1"/>
<circle cx="2975.5" cy="1239.1" r="29.2" stroke-width="2.6"/>
<circle cx="2975.5" cy="1239.1" r="26.5" stroke-width="1.4"/>
<path d="M2990.2,1239.1 L2982.85,1251.83 L2968.15,1251.83 L2960.8,1239.1 L2968.15,1226.37 L2982.85,1226.37 Z" stroke-width="1.6"/>
<line x1="2972.5" y1="1239.5" x2="2978.5" y2="1239.5" stroke-width="1"/>
<line x1="2975.5" y1="1236.1" x2="2975.5" y2="1242.1" stroke-width="1"/>
<line x1="2923.5" y1="1239.5" x2="2961.5" y2="1239.5" stroke-width="1"/>
<line x1="2989.5" y1="1239.5" x2="3027.5" y2="1239.5" stroke-width="1"/>
<line x1="2975.5" y1="1187.1" x2="2975.5" y2="1226.6" stroke-width="1"/>
<line x1="2975.5" y1="1251.6" x2="2975.5" y2="1291.1" stroke-width="1"/>
<circle cx="2771.5" cy="878.3" r="43.2" stroke-width="2.1"/>
<circle cx="2771.5" cy="878.3" r="31.6" stroke-width="2.1"/>
<circle cx="2771.5" cy="878.3" r="29.4" stroke-width="1.4"/>
<path d="M2795.9,878.3 L2783.7,899.43 L2759.3,899.43 L2747.1,878.3 L2759.3,857.17 L2783.7,857.17 Z" stroke-width="1.8"/>
<line x1="2759.5" y1="859.5" x2="2783.5" y2="859.5" stroke-width="1.3"/>
<line x1="2757.5" y1="861.5" x2="2785.5" y2="861.5" stroke-width="1.3"/>
<line x1="2698" y1="878.5" x2="2844.5" y2="878.5" stroke-width="1"/>
<path d="M2713.3,935 L2713.3,898 A61.5,61.5 0 1 1 2829.7,898 L2829.7,935" stroke-width="2.1"/>
<path d="M2713.4,934.8 L2655.2,1035.5 L2713.4,1136.2 L2829.6,1136.2 L2887.8,1035.5 L2829.6,934.8" stroke-width="2.1"/>
<path d="M2878,1035.5 L2824.75,1127.73 L2718.25,1127.73 L2665,1035.5 L2718.25,943.27 L2824.75,943.27 Z" stroke-width="1.9"/>
<circle cx="2771.5" cy="1035.5" r="76" stroke-width="1.6"/>
<circle cx="2771.5" cy="1035.5" r="73" stroke-width="1.4"/>
<circle cx="2771.5" cy="1035.5" r="70" stroke-width="1.4"/>
<circle cx="2771.5" cy="1035.5" r="67" stroke-width="1.4"/>
<circle cx="2771.5" cy="1035.5" r="63.8" stroke-width="1.4"/>
<circle cx="2771.5" cy="1035.5" r="60.5" stroke-width="4.2"/>
<circle cx="2771.5" cy="1035.5" r="54.4" stroke-width="1.6"/>
<circle cx="2771.5" cy="1035.5" r="50" stroke-width="1.6"/>
<circle cx="2771.5" cy="1035.5" r="41.5" stroke-width="1.7"/>
<circle cx="2771.5" cy="1035.5" r="33" stroke-width="2.6"/>
<circle cx="2771.5" cy="1035.5" r="23.8" stroke-width="2.6"/>
<circle cx="2771.5" cy="1035.5" r="16.6" stroke-width="2.8"/>
<circle cx="2771.5" cy="1035.5" r="13.6" stroke-width="1.2"/>
<circle cx="2771.5" cy="1035.5" r="11.4" stroke-width="1.4"/>
<path d="M2800.09,1043.16 L2779.16,1064.09 L2750.57,1056.43 L2742.91,1027.84 L2763.84,1006.91 L2792.43,1014.57 Z" stroke-width="2.4"/>
<line x1="2465" y1="1035.5" x2="3078" y2="1035.5" stroke-width="1" stroke-dasharray="51.7 7.8 7.8 7.8" stroke-dashoffset="16.7"/>
<line x1="2671.4" y1="1035.5" x2="2871.3" y2="1035.5" stroke-width="1"/>
<line x1="2771.5" y1="386" x2="2771.5" y2="457.8" stroke-width="1"/>
<line x1="2771.5" y1="457.8" x2="2771.5" y2="1349.3" stroke-width="1" stroke-dasharray="51.7 7.8 7.8 7.8" stroke-dashoffset="56.9"/>
<line x1="2771.5" y1="786" x2="2771.5" y2="1125.5" stroke-width="1"/>
<path d="M2680,722 L2680,674.5 L2693.8,665.6 L2849.2,665.6 L2863,674.5 L2863,722" stroke-width="2.1"/>
<line x1="2726" y1="675" x2="2726" y2="722" stroke-width="2.1"/>
<line x1="2816" y1="675" x2="2816" y2="722" stroke-width="2.1"/>
<path d="M2680,674.8 Q2703,657.8 2725.8,675 Q2771.5,657.5 2816.3,675 Q2840,657.8 2863,674.8" stroke-width="1.6"/>
<path d="M2680,721 Q2686,734.5 2695,737.6 L2846.3,737.6 Q2857,734.5 2863,721" stroke-width="2.1"/>
<path d="M2680,721 Q2703,750 2725.8,722 Q2771.5,748 2816.3,722 Q2840,750 2863,721" stroke-width="1.6"/>
<line x1="2695" y1="737.6" x2="2695" y2="751.5" stroke-width="2.1"/>
<line x1="2846" y1="737.6" x2="2846" y2="751.5" stroke-width="2.1"/>
<line x1="2532" y1="652.5" x2="2532" y2="806" stroke-width="2.1"/>
<line x1="3011" y1="652.5" x2="3011" y2="806" stroke-width="2.1"/>
<line x1="2531.8" y1="718" x2="2680" y2="718" stroke-width="2.2"/>
<line x1="2863" y1="718" x2="3010.6" y2="718" stroke-width="2.2"/>
<path d="M2531.8,652.5 Q2534,646.5 2541.3,643.8" stroke-width="2.1"/>
<path d="M3010.6,652.5 Q3008,646.5 3001.7,643.8" stroke-width="2.1"/>
<path d="M2541.3,643.8 A846,846 0 0 1 3001.7,643.8" stroke-width="1.8" stroke-dasharray="50 7.5 9 7.5"/>
<path d="M2531.8,660.2 A811,811 0 0 1 3010.6,660.2" stroke-width="1.8" stroke-dasharray="50 7.5 9 7.5"/>
<path d="M2546.3,461.3 L3255,461.3" stroke-width="1"/>
<path d="M2414.3,386 L2414.3,550.3 L2420,550.3 C2423,580 2424,612 2433,632 C2447,662 2490,688 2527.5,691.8 L2546,691.8 L2546,706 L2552.5,706 L2552.5,691.8 L2943.8,691.8 L2947.5,712.4 L2971.3,712.4 L2976.3,691.8 L3010.5,691.8" stroke-width="1"/>
<path d="M2414.3,526.3 L2429,526.3 L2438.5,498 Q2440,494.3 2444,494.3 L2463.8,494.3 A118.4,118.4 0 0 1 2627.5,494.3 L2999,494.3 Q3005,494.5 3007,500 L3015,526.3 L3030.6,526.3 L3030.6,550.5 L3022.5,550.5 L3016.3,706.3 L3010.6,706.3" stroke-width="1"/>
<line x1="2546.5" y1="449.5" x2="2546.5" y2="708.8" stroke-width="1" stroke-dasharray="48.75 6.7 6.7 6.7" stroke-dashoffset="8.75"/>
<line x1="2416" y1="579.5" x2="2683" y2="579.5" stroke-width="1" stroke-dasharray="48.75 6.7 6.7 6.7"/>
<path d="M2575,1331.3 L2445.8,1331.3 L2445.8,1343.8 L2580,1343.8 Q2586,1343 2588,1336 L2595,1304 L2597.5,1297.5" stroke-width="2.1"/>
<path d="M2575,1343.8 L2575,1331.3 L2583.8,1298" stroke-width="2.1"/>
<line x1="2492" y1="1331.3" x2="2492" y2="1343.8" stroke-width="2.1"/>
<line x1="2534" y1="1331.3" x2="2534" y2="1343.8" stroke-width="2.1"/>
<line x1="2564" y1="1331.3" x2="2566.5" y2="1343.8" stroke-width="1.3"/>
<line x1="2452" y1="1343.5" x2="2464" y2="1331.6" stroke-width="0.8"/>
<line x1="2471" y1="1343.5" x2="2483" y2="1331.6" stroke-width="0.8"/>
<line x1="2540" y1="1343.5" x2="2552" y2="1331.6" stroke-width="0.8"/>
<line x1="2555" y1="1343.5" x2="2567" y2="1331.6" stroke-width="0.8"/>
<path d="M2605,1305 L2605,1315 L2621.3,1320" stroke-width="1.6"/>
<path d="M2621.3,1309 L2621.3,1328 Q2623,1335 2631,1335.6 L2771.5,1335.6" stroke-width="2.1"/>
<path d="M2633,1312.5 L2633,1322.6 L2771.5,1322.6" stroke-width="1.6"/>
<line x1="2513.5" y1="1310" x2="2513.5" y2="1450" stroke-width="1"/>
<path d="M2968,1331.3 L3097.2,1331.3 L3097.2,1343.8 L2963,1343.8 Q2957,1343 2955,1336 L2948,1304 L2945.5,1297.5" stroke-width="2.1"/>
<path d="M2968,1343.8 L2968,1331.3 L2959.2,1298" stroke-width="2.1"/>
<line x1="3050" y1="1331.3" x2="3050" y2="1343.8" stroke-width="2.1"/>
<line x1="3009" y1="1331.3" x2="3009" y2="1343.8" stroke-width="2.1"/>
<line x1="2979" y1="1331.3" x2="2976.5" y2="1343.8" stroke-width="1.3"/>
<line x1="3091" y1="1343.5" x2="3079" y2="1331.6" stroke-width="0.8"/>
<line x1="3072" y1="1343.5" x2="3060" y2="1331.6" stroke-width="0.8"/>
<line x1="3003" y1="1343.5" x2="2991" y2="1331.6" stroke-width="0.8"/>
<line x1="2988" y1="1343.5" x2="2976" y2="1331.6" stroke-width="0.8"/>
<path d="M2938,1305 L2938,1315 L2921.7,1320" stroke-width="1.6"/>
<path d="M2921.7,1309 L2921.7,1328 Q2920,1335 2912,1335.6 L2771.5,1335.6" stroke-width="2.1"/>
<path d="M2910,1312.5 L2910,1322.6 L2771.5,1322.6" stroke-width="1.6"/>
<line x1="3029.5" y1="1310" x2="3029.5" y2="1450" stroke-width="1"/>
<g transform="translate(2922.2 993.2) scale(85)" fill="none" stroke="#000" stroke-width="0.0224"><use href="#embO"/><use href="#embI"/></g>
<line x1="2414.3" y1="398.5" x2="2771.5" y2="398.5" stroke-width="1"/>
<polygon points="2414.3,398 2435.3,394.5 2435.3,401.5" fill="#000" stroke="none"/>
<polygon points="2771.5,398 2750.5,401.5 2750.5,394.5" fill="#000" stroke="none"/>
<text class="cj" x="2546" y="385.2" font-size="40" textLength="62" lengthAdjust="spacingAndGlyphs">单相</text>
<text x="2610.41" y="383.8" font-size="41.22" font-family="Liberation Serif, serif" letter-spacing="0.11em" textLength="33.57" lengthAdjust="spacingAndGlyphs" stroke="#000" stroke-width="0.7" fill="#000">91</text>
<line x1="2771.5" y1="611.5" x2="3157" y2="611.5" stroke-width="1"/>
<line x1="3148.5" y1="611.8" x2="3148.5" y2="1344" stroke-width="1"/>
<polygon points="3148.3,611.8 3151.8,632.8 3144.8,632.8" fill="#000" stroke="none"/>
<polygon points="3148.3,1344 3144.8,1323 3151.8,1323" fill="#000" stroke="none"/>
<line x1="3242.5" y1="461.3" x2="3242.5" y2="1344" stroke-width="1"/>
<polygon points="3242.5,461.3 3246,482.3 3239,482.3" fill="#000" stroke="none"/>
<polygon points="3242.5,1344 3239,1323 3246,1323" fill="#000" stroke="none"/>
<line x1="3097.3" y1="1344.5" x2="3255" y2="1344.5" stroke-width="1"/>
<g transform="translate(3131 1031) rotate(-90)">
<text class="cj" x="0" y="-0.3" font-size="40" textLength="60" lengthAdjust="spacingAndGlyphs">三相</text>
<text x="59.6" y="0" font-size="41.22" font-family="Liberation Serif, serif" letter-spacing="0.11em" textLength="49.97" lengthAdjust="spacingAndGlyphs" stroke="#000" stroke-width="0.7" fill="#000">195</text>
</g>
<g transform="translate(3228.5 957.5) rotate(-90)">
<text class="cj" x="0" y="-0.3" font-size="40" textLength="60" lengthAdjust="spacingAndGlyphs">单相</text>
<text x="59.23" y="0" font-size="41.22" font-family="Liberation Serif, serif" letter-spacing="0.11em" textLength="53.07" lengthAdjust="spacingAndGlyphs" stroke="#000" stroke-width="0.7" fill="#000">230</text>
</g>
<line x1="2513.3" y1="1442.5" x2="3029.7" y2="1442.5" stroke-width="1"/>
<polygon points="2513.3,1442.6 2534.3,1439.1 2534.3,1446.1" fill="#000" stroke="none"/>
<polygon points="3029.7,1442.6 3008.7,1446.1 3008.7,1439.1" fill="#000" stroke="none"/>
<text x="2749.46" y="1428.3" font-size="40.46" font-family="Liberation Serif, serif" letter-spacing="0.11em" textLength="48.82" lengthAdjust="spacingAndGlyphs" stroke="#000" stroke-width="0.7" fill="#000">125</text>
<line x1="2446.5" y1="1343.8" x2="2446.5" y2="1522.7" stroke-width="1"/>
<line x1="3097.5" y1="1343.8" x2="3097.5" y2="1522.7" stroke-width="1"/>
<line x1="2446" y1="1514.5" x2="3097.3" y2="1514.5" stroke-width="1"/>
<polygon points="2446,1514.5 2467,1511 2467,1518" fill="#000" stroke="none"/>
<polygon points="3097.3,1514.5 3076.3,1518 3076.3,1511" fill="#000" stroke="none"/>
<text x="2749.68" y="1500" font-size="40.46" font-family="Liberation Serif, serif" letter-spacing="0.11em" textLength="48.22" lengthAdjust="spacingAndGlyphs" stroke="#000" stroke-width="0.7" fill="#000">158</text>
<g transform="translate(2213.8 1127.5) rotate(-90)">
<text class="cj" x="0" y="-0.3" font-size="40" textLength="60" lengthAdjust="spacingAndGlyphs">三相</text>
<text x="58.68" y="0" font-size="41.98" font-family="Liberation Serif, serif" letter-spacing="0.11em" textLength="48.31" lengthAdjust="spacingAndGlyphs" stroke="#000" stroke-width="0.7" fill="#000">151</text>
<line x1="115.5" y1="-19.7" x2="128.5" y2="-6.7" stroke-width="1.9"/>
<line x1="115.5" y1="-6.7" x2="128.5" y2="-19.7" stroke-width="1.9"/>
<text x="140.68" y="0" font-size="41.98" font-family="Liberation Serif, serif" letter-spacing="0.11em" textLength="48.31" lengthAdjust="spacingAndGlyphs" stroke="#000" stroke-width="0.7" fill="#000">151</text>
</g>
<g transform="translate(2277.5 1129) rotate(-90)">
<text class="cj" x="0" y="-0.3" font-size="40" textLength="60" lengthAdjust="spacingAndGlyphs">单相</text>
<text x="58.68" y="0" font-size="41.98" font-family="Liberation Serif, serif" letter-spacing="0.11em" textLength="48.31" lengthAdjust="spacingAndGlyphs" stroke="#000" stroke-width="0.7" fill="#000">161</text>
<line x1="115.5" y1="-19.7" x2="128.5" y2="-6.7" stroke-width="1.9"/>
<line x1="115.5" y1="-6.7" x2="128.5" y2="-19.7" stroke-width="1.9"/>
<text x="140.68" y="0" font-size="41.98" font-family="Liberation Serif, serif" letter-spacing="0.11em" textLength="48.31" lengthAdjust="spacingAndGlyphs" stroke="#000" stroke-width="0.7" fill="#000">161</text>
</g>
<line x1="1959.4" y1="2051" x2="3442.3" y2="2051" stroke-width="2"/>
<line x1="1959" y1="2051" x2="1959" y2="2422" stroke-width="2"/>
<line x1="1959.4" y1="2092.5" x2="2454" y2="2092.5" stroke-width="1"/>
<line x1="1959.4" y1="2134.5" x2="2454" y2="2134.5" stroke-width="1"/>
<line x1="1959.4" y1="2175.5" x2="2454" y2="2175.5" stroke-width="1"/>
<line x1="1959.4" y1="2216.5" x2="2454" y2="2216.5" stroke-width="1"/>
<line x1="1959.4" y1="2257" x2="2948" y2="2257" stroke-width="2"/>
<line x1="1959.4" y1="2298" x2="2454" y2="2298" stroke-width="2"/>
<line x1="1959.4" y1="2340" x2="2454" y2="2340" stroke-width="2"/>
<line x1="1959.4" y1="2381" x2="2454" y2="2381" stroke-width="2"/>
<line x1="2025.5" y1="2051" x2="2025.5" y2="2257" stroke-width="1"/>
<line x1="2083.5" y1="2051" x2="2083.5" y2="2257" stroke-width="1"/>
<line x1="2248.5" y1="2051" x2="2248.5" y2="2257" stroke-width="1"/>
<line x1="2371.5" y1="2051" x2="2371.5" y2="2257" stroke-width="1"/>
<line x1="2454" y1="2051" x2="2454" y2="2422" stroke-width="2"/>
<line x1="2083.5" y1="2257" x2="2083.5" y2="2422" stroke-width="1"/>
<line x1="2206" y1="2257" x2="2206" y2="2422" stroke-width="2"/>
<line x1="2330.5" y1="2257" x2="2330.5" y2="2422" stroke-width="1"/>
<line x1="2454" y1="2307.5" x2="2948" y2="2307.5" stroke-width="1"/>
<line x1="2454" y1="2372" x2="2948" y2="2372" stroke-width="2"/>
<line x1="2536.5" y1="2307.5" x2="2536.5" y2="2372" stroke-width="1"/>
<line x1="2618.5" y1="2307.5" x2="2618.5" y2="2372" stroke-width="1"/>
<line x1="2701" y1="2257" x2="2701" y2="2422" stroke-width="2"/>
<line x1="2824.5" y1="2257" x2="2824.5" y2="2372" stroke-width="1"/>
<line x1="2948" y1="2051" x2="2948" y2="2422" stroke-width="2"/>
<line x1="2948" y1="2175" x2="3442.3" y2="2175" stroke-width="2"/>
<line x1="2948" y1="2298" x2="3442.3" y2="2298" stroke-width="2"/>
<line x1="2948" y1="2381.5" x2="3442.3" y2="2381.5" stroke-width="1" stroke-dasharray="17 8"/>
<text class="cj" x="1966" y="2250.42" font-size="34" textLength="54" lengthAdjust="spacingAndGlyphs">标记</text>
<text class="cj" x="2028" y="2250.42" font-size="34" textLength="54" lengthAdjust="spacingAndGlyphs">处数</text>
<text class="cj" x="2100" y="2250.42" font-size="34" textLength="131" lengthAdjust="spacingAndGlyphs">更改文件名</text>
<text class="cj" x="2269" y="2250.42" font-size="34" textLength="27" lengthAdjust="spacingAndGlyphs">签</text>
<text class="cj" x="2324" y="2250.42" font-size="34" textLength="27" lengthAdjust="spacingAndGlyphs">字</text>
<text class="cj" x="2376" y="2250.42" font-size="34" textLength="27" lengthAdjust="spacingAndGlyphs">日</text>
<text class="cj" x="2417" y="2250.42" font-size="34" textLength="27" lengthAdjust="spacingAndGlyphs">期</text>
<text class="cj" x="1979" y="2291.42" font-size="34" textLength="27" lengthAdjust="spacingAndGlyphs">设</text>
<text class="cj" x="2035" y="2291.42" font-size="34" textLength="27" lengthAdjust="spacingAndGlyphs">计</text>
<text class="cj" x="2228" y="2291.42" font-size="34" textLength="81" lengthAdjust="spacingAndGlyphs">标准化</text>
<text class="cj" x="1979" y="2331.92" font-size="34" textLength="27" lengthAdjust="spacingAndGlyphs">校</text>
<text class="cj" x="2035" y="2331.92" font-size="34" textLength="27" lengthAdjust="spacingAndGlyphs">对</text>
<text class="cj" x="2228" y="2331.92" font-size="34" textLength="27" lengthAdjust="spacingAndGlyphs">审</text>
<text class="cj" x="2282" y="2331.92" font-size="34" textLength="27" lengthAdjust="spacingAndGlyphs">定</text>
<text class="cj" x="1979" y="2373.42" font-size="34" textLength="27" lengthAdjust="spacingAndGlyphs">审</text>
<text class="cj" x="2035" y="2373.42" font-size="34" textLength="27" lengthAdjust="spacingAndGlyphs">核</text>
<text class="cj" x="1979" y="2414.42" font-size="34" textLength="27" lengthAdjust="spacingAndGlyphs">工</text>
<text class="cj" x="2035" y="2414.42" font-size="34" textLength="27" lengthAdjust="spacingAndGlyphs">艺</text>
<text class="cj" x="2228" y="2414.42" font-size="34" textLength="27" lengthAdjust="spacingAndGlyphs">日</text>
<text class="cj" x="2280" y="2414.42" font-size="34" textLength="27" lengthAdjust="spacingAndGlyphs">期</text>
<text class="cj" x="2481" y="2295.92" font-size="34" textLength="27" lengthAdjust="spacingAndGlyphs">图</text>
<text class="cj" x="2535" y="2295.92" font-size="34" textLength="27" lengthAdjust="spacingAndGlyphs">样</text>
<text class="cj" x="2590" y="2295.92" font-size="34" textLength="27" lengthAdjust="spacingAndGlyphs">标</text>
<text class="cj" x="2644" y="2295.92" font-size="34" textLength="27" lengthAdjust="spacingAndGlyphs">记</text>
<text class="cj" x="2721" y="2295.92" font-size="34" textLength="27" lengthAdjust="spacingAndGlyphs">重</text>
<text class="cj" x="2776" y="2295.92" font-size="34" textLength="27" lengthAdjust="spacingAndGlyphs">量</text>
<text class="cj" x="2845" y="2295.92" font-size="34" textLength="27" lengthAdjust="spacingAndGlyphs">比</text>
<text class="cj" x="2898" y="2295.92" font-size="34" textLength="27" lengthAdjust="spacingAndGlyphs">例</text>
<text class="cj" x="2507" y="2412.92" font-size="34" textLength="27" lengthAdjust="spacingAndGlyphs">共</text>
<text class="cj" x="2622" y="2412.92" font-size="34" textLength="27" lengthAdjust="spacingAndGlyphs">页</text>
<text class="cj" x="2754" y="2412.92" font-size="34" textLength="27" lengthAdjust="spacingAndGlyphs">第</text>
<text class="cj" x="2869" y="2412.92" font-size="34" textLength="27" lengthAdjust="spacingAndGlyphs">页</text>
<text x="2863.97" y="2351" font-size="33.59" font-family="Liberation Serif, serif" letter-spacing="0.11em" textLength="46.29" lengthAdjust="spacingAndGlyphs" stroke="#000" stroke-width="0.7" fill="#000">1:2</text>
<text class="cj" x="3125" y="2259.54" font-size="58" textLength="136.5" lengthAdjust="spacingAndGlyphs">外形图</text>
<text x="3125.73" y="2359.5" font-size="60.31" font-family="Liberation Serif, serif" letter-spacing="0.11em" textLength="137.91" lengthAdjust="spacingAndGlyphs" stroke="#000" stroke-width="0.7" fill="#000">CHM4–5</text>
<g transform="translate(2970.7 2087.7) scale(52)" fill="none" stroke="#000"><use href="#embO" stroke-width="0.0423"/><use href="#embI" stroke-width="0.0212"/><g transform="translate(0.5 0.5) scale(0.86) translate(-0.5 -0.5)"><use href="#embO" stroke-width="0.0201"/></g></g>
<circle cx="3027.5" cy="2138" r="5.2" stroke-width="0.9"/>
<text x="3027.5" y="2141.3" font-size="9" font-family="Liberation Sans, sans-serif" text-anchor="middle" stroke="none" fill="#000">R</text>
<g font-family="Liberation Sans, sans-serif" font-weight="bold" font-size="66.12" fill="#fff" stroke="#000" stroke-width="2.2" stroke-linejoin="round"><text x="3032" y="2138.5" textLength="50" lengthAdjust="spacingAndGlyphs">C</text><text x="3085" y="2138.5" textLength="54" lengthAdjust="spacingAndGlyphs">N</text><text x="3139" y="2138.5" textLength="50" lengthAdjust="spacingAndGlyphs">P</text></g>
<text x="3194" y="2136.3" font-size="60" font-weight="500" font-family="Liberation Sans, Noto Sans CJK SC, sans-serif" textLength="189" lengthAdjust="spacingAndGlyphs" fill="#000" stroke="none">南方泵业</text>
</svg>
</body></html>
